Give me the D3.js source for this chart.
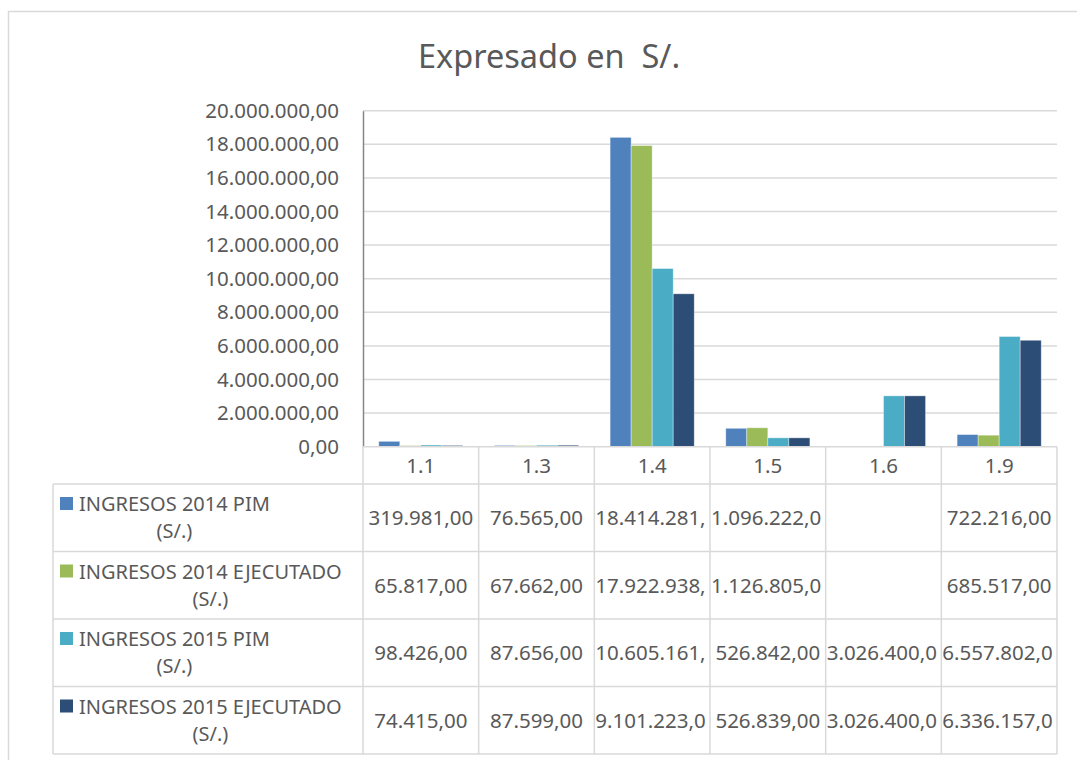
<!DOCTYPE html>
<html>
<head>
<meta charset="utf-8">
<script src="https://cdn.jsdelivr.net/npm/d3@7"></script>
<style>
  body { margin: 0; background: #fff; }
  svg text { font-family: "Noto Sans", sans-serif; fill: #595959; }
</style>
</head>
<body>
<div id="chart"></div>
<script>
const categories = ['1.1', '1.3', '1.4', '1.5', '1.6', '1.9'];
const seriesNames = [
  ['INGRESOS 2014 PIM', '(S/.)'],
  ['INGRESOS 2014 EJECUTADO', '(S/.)'],
  ['INGRESOS 2015 PIM', '(S/.)'],
  ['INGRESOS 2015 EJECUTADO', '(S/.)']
];
const seriesColors = ['#4f81bd', '#9bbb59', '#4bacc6', '#2c4d75'];
const pim2014 = [319981, 76565, 18414281, 1096222, null, 722216];
const ejec2014 = [65817, 67662, 17922938, 1126805, null, 685517];
const pim2015 = [98426, 87656, 10605161, 526842, 3026400, 6557802];
const ejec2015 = [74415, 87599, 9101223, 526839, 3026400, 6336157];
const yTicks = [0, 2e6, 4e6, 6e6, 8e6, 10e6, 12e6, 14e6, 16e6, 18e6, 20e6];

const series = [pim2014, ejec2014, pim2015, ejec2015];

const width = 1077;
const height = 760;
const plot = { left: 363, right: 1057, top: 110.7, bottom: 446.7 };
const tableLeft = 53;
const headerBottom = 484;
const rowH = 67.5;
const grid = '#d9d9d9';

const locale = d3.formatLocale({ decimal: ',', thousands: '.', grouping: [3], currency: ['', ''] });
const fmt = locale.format(',.2f');

const svg = d3.select('#chart').append('svg')
  .attr('width', width)
  .attr('height', height);

// chart frame
svg.append('rect')
  .attr('x', 8.5).attr('y', 11.5)
  .attr('width', 1200).attr('height', 900)
  .attr('fill', 'none')
  .attr('stroke', grid)
  .attr('stroke-width', 1.5);

svg.append('text')
  .attr('x', 549).attr('y', 68)
  .attr('text-anchor', 'middle')
  .style('font-size', '32.5px')
  .style('white-space', 'pre')
  .text('Expresado en  S/.');

const x = d3.scaleBand().domain(categories).range([plot.left, plot.right]).padding(0);
const bw = x.bandwidth() / 5.5;
const xs = d3.scaleBand().domain(d3.range(series.length))
  .range([bw * 0.75, x.bandwidth() - bw * 0.75]).padding(0);
const y = d3.scaleLinear().domain([0, 20e6]).range([plot.bottom, plot.top]);

// gridlines
svg.append('g')
  .selectAll('line')
  .data(yTicks.filter((d) => d > 0))
  .join('line')
  .attr('x1', plot.left).attr('x2', plot.right)
  .attr('y1', (d) => y(d)).attr('y2', (d) => y(d))
  .attr('stroke', grid)
  .attr('stroke-width', 1.5);

// y axis
const yAxis = svg.append('g')
  .attr('transform', `translate(${plot.left},0)`)
  .call(d3.axisLeft(y).tickValues(yTicks).tickFormat(fmt).tickSize(0).tickPadding(24));
yAxis.select('.domain').attr('stroke', '#868686').attr('stroke-width', 1.5);
yAxis.selectAll('text').style('font-size', '20.5px').attr('fill', '#595959');

// bars
const groups = svg.append('g')
  .selectAll('g')
  .data(categories)
  .join('g')
  .attr('transform', (d) => `translate(${x(d)},0)`);

groups.selectAll('rect')
  .data((c, ci) => series.map((s, si) => ({ si, v: s[ci] })).filter((d) => d.v != null))
  .join('rect')
  .attr('x', (d) => xs(d.si))
  .attr('width', xs.bandwidth())
  .attr('y', (d) => y(d.v))
  .attr('height', (d) => y(0) - y(d.v))
  .attr('fill', (d) => seriesColors[d.si])
  .attr('stroke', '#fff')
  .attr('stroke-opacity', 0.5)
  .attr('stroke-width', 0.75);

// data table
const table = svg.append('g');
const tableBottom = headerBottom + rowH * series.length;

// baseline of the plot / top of header
table.append('line')
  .attr('x1', plot.left).attr('x2', plot.right)
  .attr('y1', plot.bottom).attr('y2', plot.bottom)
  .attr('stroke', grid).attr('stroke-width', 1.5);

// horizontal rules
table.selectAll('line.h')
  .data(d3.range(series.length + 1))
  .join('line')
  .attr('class', 'h')
  .attr('x1', tableLeft).attr('x2', plot.right)
  .attr('y1', (i) => headerBottom + i * rowH)
  .attr('y2', (i) => headerBottom + i * rowH)
  .attr('stroke', grid).attr('stroke-width', 1.5);

// vertical rules
const vx = categories.map((c) => x(c)).concat([plot.right]);
table.selectAll('line.v')
  .data(vx)
  .join('line')
  .attr('class', 'v')
  .attr('x1', (d) => d).attr('x2', (d) => d)
  .attr('y1', plot.bottom).attr('y2', tableBottom)
  .attr('stroke', grid).attr('stroke-width', 1.5);
table.append('line')
  .attr('x1', tableLeft).attr('x2', tableLeft)
  .attr('y1', headerBottom).attr('y2', tableBottom)
  .attr('stroke', grid).attr('stroke-width', 1.5);

// category labels
table.selectAll('text.cat')
  .data(categories)
  .join('text')
  .attr('class', 'cat')
  .attr('x', (d) => x(d) + x.bandwidth() / 2)
  .attr('y', (plot.bottom + headerBottom) / 2)
  .attr('dy', '0.36em')
  .attr('text-anchor', 'middle')
  .style('font-size', '20.5px')
  .text((d) => d);

// legend cells
series.forEach((s, si) => {
  const top = headerBottom + si * rowH;
  table.append('rect')
    .attr('x', 60).attr('y', top + 13)
    .attr('width', 13).attr('height', 13)
    .attr('fill', seriesColors[si]);
  const line1 = table.append('text')
    .attr('x', 79).attr('y', top + 27)
    .style('font-size', '20px')
    .text(seriesNames[si][0]);
  const w = line1.node().getComputedTextLength();
  table.append('text')
    .attr('x', 79 + w / 2).attr('y', top + 54)
    .attr('text-anchor', 'middle')
    .style('font-size', '20px')
    .text(seriesNames[si][1]);

  // value cells: too-long numbers are cut at the cell edge, like the spreadsheet
  categories.forEach((c, ci) => {
    const v = s[ci];
    if (v == null) return;
    const room = x.bandwidth() - 0.5;
    const t = table.append('text')
      .attr('y', top + rowH / 2)
      .attr('dy', '0.36em')
      .style('font-size', '20.5px')
      .text(fmt(v));
    let str = fmt(v);
    if (t.node().getComputedTextLength() > room) {
      while (str.length > 1 && t.node().getComputedTextLength() > room) {
        str = str.slice(0, -1);
        t.text(str);
      }
      t.attr('x', x(c) + 1);
    } else {
      t.attr('x', x(c) + x.bandwidth() / 2).attr('text-anchor', 'middle');
    }
  });
});
</script>
</body>
</html>
